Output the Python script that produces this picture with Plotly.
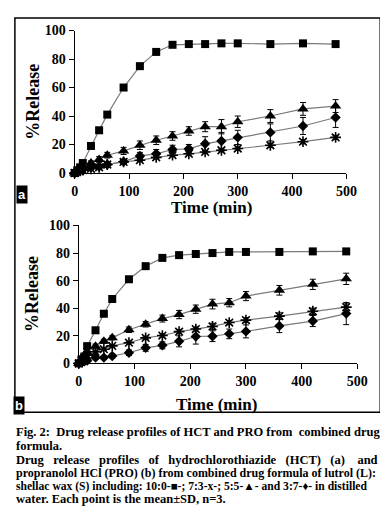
import plotly.graph_objects as go

# ---------------- data ----------------
time_min = [0, 5, 10, 15, 30, 45, 60, 90, 120, 150, 180, 210, 240, 270, 300, 360, 420, 480]

# panel a : HCT
a_10_0 = [0, 2, 4, 7, 19, 30, 41, 60, 75, 85, 90, 90.5, 90.5, 91, 91, 90.5, 91, 90.5]
a_10_0_sd = [0, 0.3, 0.3, 0.5, 0.5, 0.5, 0.5, 0.5, 0.5, 0.5, 0.5, 0.5, 0.5, 0.5, 0.5, 0.5, 0.5, 0.5]
a_7_3 = [0, 1, 1.5, 2, 3, 4, 6, 7.8, 9, 11, 12.5, 13.5, 14.8, 16, 17.2, 19.5, 22, 25]
a_7_3_sd = [0, 0.3, 0.5, 0.5, 0.8, 1, 1, 1, 1, 1, 1, 1, 1, 1, 1, 1.5, 1.5, 1.5]
a_5_5 = [0, 1.5, 3, 4.5, 7, 9.5, 12.5, 15.5, 19.5, 23, 26, 29.5, 32.5, 32.5, 36, 40, 45, 47]
a_5_5_sd = [0, 0.5, 0.5, 1, 1.5, 2, 2, 2.5, 3, 3, 3, 3, 3.5, 5, 4, 4.5, 4.5, 4.5]
a_3_7 = [0, 1, 2, 2.5, 4, 4.5, 6, 8, 12, 13.5, 16.5, 17, 20.5, 22.5, 25, 28.5, 33, 39]
a_3_7_sd = [0, 0.5, 0.5, 1, 1, 1, 1, 1.5, 2.5, 3, 3, 3, 5, 6, 5, 6, 6, 7]

# panel b : PRO
b_10_0 = [0, 3, 5, 12.5, 24, 36, 46.7, 61, 70.5, 76.5, 78.5, 79.3, 80, 80.8, 80.8, 80.8, 81.2, 81.2]
b_10_0_sd = [0, 0.3, 0.3, 0.5, 0.5, 0.5, 0.5, 0.5, 0.5, 0.5, 0.5, 0.5, 0.5, 0.5, 0.5, 0.5, 0.5, 0.5]
b_7_3 = [0, 2, 4, 6, 8.4, 10.3, 12.7, 15, 18.5, 20.2, 23, 24.9, 26.8, 29.6, 31.4, 34.3, 37.8, 40.8]
b_7_3_sd = [0, 0.3, 0.5, 0.5, 0.8, 1, 1, 1, 1.2, 1.2, 1.5, 1.5, 2.3, 1.5, 1.8, 2.3, 2.3, 2.3]
b_5_5 = [0, 3, 6, 8, 12.5, 16, 18.5, 24.4, 28.4, 32.5, 35.4, 39.3, 43, 44, 48.8, 53, 57.3, 61.3]
b_5_5_sd = [0, 0.5, 1, 1, 1.5, 1.5, 1.5, 2, 2, 2.5, 3, 3, 3.5, 3, 3.3, 3.5, 3.7, 4.1]
b_3_7 = [0, 1, 1.5, 2, 4.2, 4.2, 5.4, 7.7, 11.3, 13.1, 16, 19.5, 19.7, 21.4, 23.2, 27.2, 30.7, 36.1]
b_3_7_sd = [0, 0.3, 0.5, 0.5, 1, 1, 1.5, 2, 2.5, 2.5, 4, 5.5, 3.9, 3.5, 4.7, 4.9, 4, 8]

x_ticks = [0, 100, 200, 300, 400, 500]
y_ticks = [0, 20, 40, 60, 80, 100]
x_title = "Time (min)"
y_title = "%Release"

NB = "\u00a0"
caption_lines = [
    "Fig. 2:" + NB + " Drug release profiles of HCT and PRO from" + NB + " combined drug",
    "formula.",
    (NB * 2 + " ").join(["Drug", "release", "profiles", "of", "hydrochlorothiazide", "(HCT)", "(a)"])
    + NB * 3 + " and",
    "propranolol HCl (PRO) (b) from combined drug formula of lutrol (L):",
    "shellac wax (S) including: 10:0-\u25a0-; 7:3-x-; 5:5-\u25b2- and 3:7-\u2666- in distilled",
    "water. Each point is the mean\u00b1SD, n=3.",
]
caption_sizes = [12.5, 12.5, 12.5, 12.0, 11.6, 12.5]

# ---------------- layout helpers ----------------
W, H = 388, 522
def px(x):
    return x / W
def py(y):
    return 1 - y / H

SERIF = "Liberation Serif"
LINE_COL = "#7a7a7a"

styles = [
    ("square", 8, None),
    ("asterisk-open", 9, 1.6),
    ("triangle-up", 10, None),
    ("diamond", 8, None),
]

fig = go.Figure()

def add_panel(series, xa, ya):
    for (vals, sd), (sym, size, lw) in zip(series, styles):
        marker = dict(symbol=sym, size=size, color="black")
        if lw:
            marker["line"] = dict(color="black", width=lw)
        fig.add_trace(go.Scatter(
            x=time_min, y=vals, mode="lines+markers",
            line=dict(color=LINE_COL, width=1.2),
            marker=marker,
            error_y=dict(type="data", array=sd, visible=True, color="black",
                         thickness=1, width=3),
            xaxis=xa, yaxis=ya, cliponaxis=False, showlegend=False,
        ))

add_panel([(a_10_0, a_10_0_sd), (a_7_3, a_7_3_sd), (a_5_5, a_5_5_sd), (a_3_7, a_3_7_sd)], "x", "y")
add_panel([(b_10_0, b_10_0_sd), (b_7_3, b_7_3_sd), (b_5_5, b_5_5_sd), (b_3_7, b_3_7_sd)], "x2", "y2")

tickfont = dict(family=SERIF, size=14, color="black", weight="bold")
ax_common = dict(showline=True, linecolor="black", linewidth=1, ticks="outside",
                 ticklen=5, tickcolor="black", tickwidth=1, showgrid=False,
                 zeroline=False, tickfont=tickfont)

fig.update_layout(
    width=W, height=H,
    margin=dict(l=0, r=0, t=0, b=0),
    paper_bgcolor="white", plot_bgcolor="white",
    xaxis=dict(domain=[px(65), px(347)], range=[0, 500], tickvals=x_ticks, anchor="y", **ax_common),
    yaxis=dict(domain=[py(162.7), py(16)], range=[0, 100], tickvals=y_ticks, anchor="x", **ax_common),
    xaxis2=dict(domain=[px(69.3), px(358.3)], range=[0, 500], tickvals=x_ticks, anchor="y2", **ax_common),
    yaxis2=dict(domain=[py(358.7), py(216.7)], range=[0, 100], tickvals=y_ticks, anchor="x2", **ax_common),
)

ann = []
title_font = dict(family=SERIF, size=17, color="black", weight="bold")
ann.append(dict(text=x_title, x=px(207), y=py(198), font=title_font))
ann.append(dict(text=x_title, x=px(212), y=py(401), font=title_font))
ann.append(dict(text=y_title, x=px(22), y=py(89), textangle=-90, font=dict(title_font, size=18)))
ann.append(dict(text=y_title, x=px(20), y=py(287), textangle=-90, font=dict(title_font, size=18)))
ann.append(dict(text="a", x=px(10), y=py(185), bgcolor="black", borderpad=1,
                font=dict(family="Liberation Sans", size=13, color="white", weight="bold")))
ann.append(dict(text="b", x=px(7), y=py(402), bgcolor="black", borderpad=1,
                font=dict(family="Liberation Sans", size=13, color="white", weight="bold")))

cap_y = [429, 444, 458, 471.5, 485, 498]
for line, yy, fs in zip(caption_lines, cap_y, caption_sizes):
    ann.append(dict(text=line, x=px(2), y=py(yy), xanchor="left",
                    font=dict(family=SERIF, size=fs, color="black", weight="bold")))

for a in ann:
    a.setdefault("xanchor", "center")
    a.update(xref="paper", yref="paper", showarrow=False, yanchor="middle")
fig.update_layout(annotations=ann)

fig.add_shape(type="rect", xref="paper", yref="paper",
              x0=px(3), x1=px(382), y0=py(409), y1=py(3),
              line=dict(color="black", width=1.5))

fig.write_html("out.html")
